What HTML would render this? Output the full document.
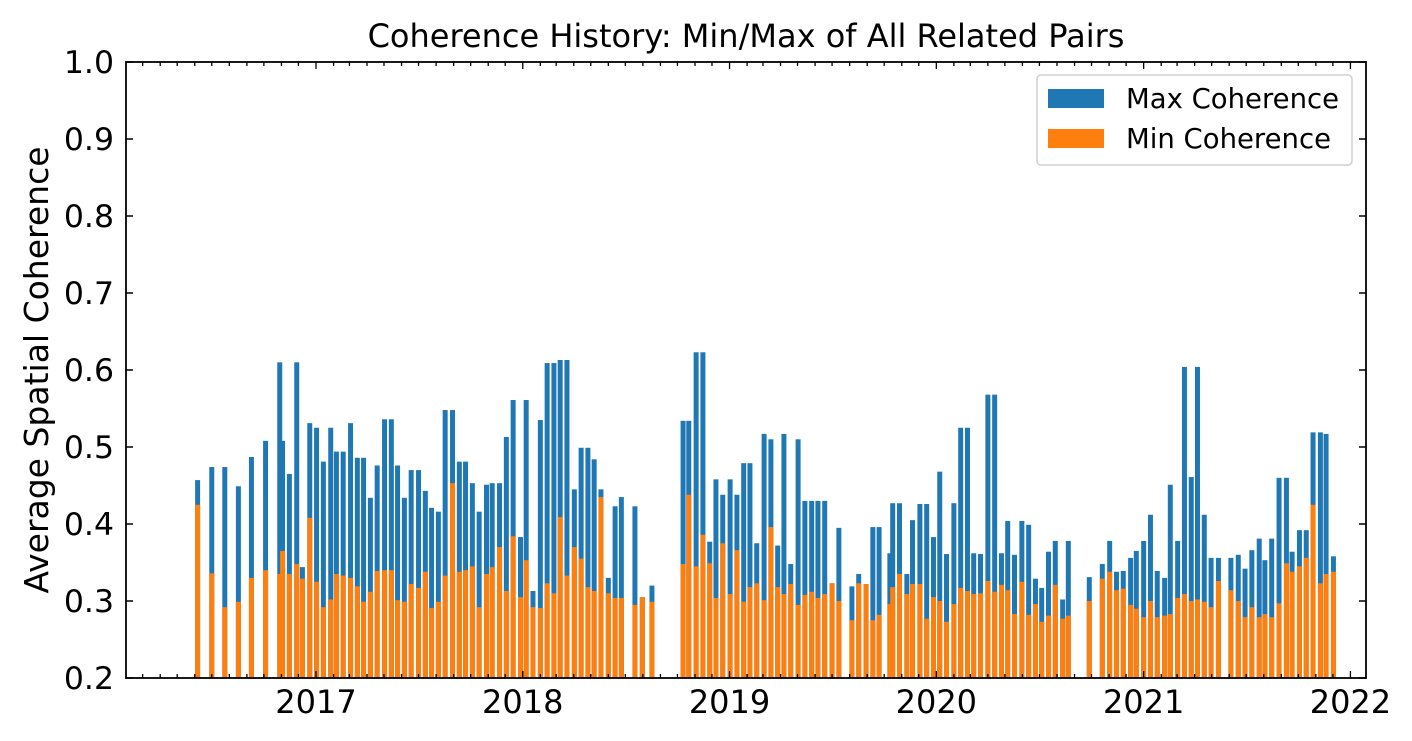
<!DOCTYPE html>
<html><head><meta charset="utf-8"><style>
html,body{margin:0;padding:0;background:#fff;}
svg{display:block;font-family:"DejaVu Sans","Liberation Sans",sans-serif;}
</style></head><body>
<svg id="chart" width="1412" height="741" viewBox="0 0 1412 741">
<text x="746" y="47" font-size="32" text-anchor="middle">Coherence History: Min/Max of All Related Pairs</text>
<text transform="translate(48,370) rotate(-90)" font-size="33" text-anchor="middle">Average Spatial Coherence</text>
<g id="bars-max"></g>
<g id="bars-min"></g>
<g id="axes"></g>
<g>
<rect x="1037" y="75" width="315" height="90" rx="4" fill="#fff" fill-opacity="0.8" stroke="#d0d0d0" stroke-width="1.5"/>
<rect x="1048" y="89" width="56" height="19" fill="#1f77b4"/>
<text x="1126" y="108" font-size="27.5">Max Coherence</text>
<rect x="1048" y="129" width="56" height="19" fill="#ff7f0e"/>
<text x="1126" y="148" font-size="27.5">Min Coherence</text>
</g>
</svg>
<script>
// days since 2017-01-01
const dayOffsets = [-209,-184,-161,-137,-114,-89,-64,-59,-47,-34,-24,-11,1,13,26,36,48,61,73,84,96,108,121,133,144,156,168,181,193,204,216,228,241,253,264,276,288,301,311,324,336,348,361,371,383,396,408,420,431,443,456,468,480,491,503,516,528,539,563,576,593,648,658,671,683,695,706,718,731,743,755,766,778,791,803,815,826,838,851,863,875,886,898,911,923,946,958,971,983,994,1013,1018,1030,1043,1053,1066,1078,1090,1101,1113,1126,1138,1150,1161,1173,1186,1198,1210,1221,1233,1246,1258,1270,1281,1293,1305,1318,1328,1365,1388,1401,1413,1425,1438,1448,1461,1473,1485,1498,1508,1521,1533,1545,1556,1568,1580,1593,1615,1628,1640,1652,1665,1675,1687,1700,1713,1723,1736,1748,1760,1773,1783,1796];
const maxCoherence = [.457,.474,.474,.449,.487,.508,.610,.508,.465,.610,.344,.531,.525,.481,.525,.494,.494,.531,.486,.486,.434,.476,.536,.536,.476,.434,.470,.470,.443,.421,.416,.548,.548,.481,.481,.453,.416,.451,.453,.453,.513,.561,.383,.561,.313,.535,.609,.609,.613,.613,.445,.499,.499,.484,.445,.330,.423,.435,.423,.305,.320,.534,.534,.623,.623,.377,.458,.438,.458,.438,.479,.479,.375,.517,.510,.372,.517,.348,.510,.430,.430,.430,.430,.323,.395,.319,.335,.322,.396,.396,.362,.427,.427,.335,.405,.426,.426,.383,.468,.361,.427,.525,.525,.362,.361,.568,.568,.362,.404,.360,.404,.399,.329,.317,.364,.378,.302,.378,.331,.348,.378,.338,.339,.356,.365,.378,.412,.339,.330,.451,.378,.604,.461,.604,.412,.356,.356,.356,.360,.342,.366,.381,.353,.381,.460,.460,.364,.392,.392,.519,.519,.517,.358];
const minCoherence = [.425,.336,.292,.299,.330,.340,.335,.365,.335,.348,.329,.408,.325,.292,.302,.335,.333,.330,.319,.299,.312,.339,.340,.340,.301,.299,.322,.317,.338,.291,.299,.333,.453,.338,.340,.345,.292,.335,.344,.370,.313,.384,.305,.353,.292,.291,.323,.310,.409,.333,.370,.355,.318,.313,.435,.310,.304,.304,.295,.305,.299,.348,.438,.345,.386,.349,.304,.375,.309,.366,.299,.318,.323,.301,.396,.318,.309,.322,.295,.308,.312,.304,.309,.323,.300,.275,.323,.322,.275,.282,.296,.318,.335,.309,.322,.322,.277,.305,.300,.273,.296,.317,.313,.309,.310,.326,.312,.321,.314,.283,.325,.282,.296,.273,.281,.321,.277,.281,.300,.329,.338,.314,.316,.295,.290,.279,.300,.279,.281,.283,.304,.309,.300,.302,.299,.292,.326,.314,.300,.279,.292,.279,.283,.279,.297,.349,.338,.345,.356,.425,.323,.335,.338];
const yTickLabels = ["0.2","0.3","0.4","0.5","0.6","0.7","0.8","0.9","1.0"];
const xTickLabels = ["2017","2018","2019","2020","2021","2022"];

const NS="http://www.w3.org/2000/svg";
const L=126,R=1366,T=62,B=678, X0=316, PXD=0.5665;
const xScale=d=>X0+d*PXD;
const yScale=v=>B-(v-0.2)/0.8*(B-T);
const BW=8.8*PXD;
function mk(tag,attrs,parent){const e=document.createElementNS(NS,tag);for(const k in attrs)e.setAttribute(k,attrs[k]);parent.appendChild(e);return e;}
const gMax=document.getElementById('bars-max'),gMin=document.getElementById('bars-min'),gAx=document.getElementById('axes');
dayOffsets.forEach((d,i)=>{
  const x=xScale(d)-BW/2;
  const b=mk('rect',{x:x,y:yScale(maxCoherence[i]),width:BW,height:B-yScale(maxCoherence[i]),fill:'#1f77b4'},gMax);
  
  
});
dayOffsets.forEach((d,i)=>{
  const x=xScale(d)-BW/2;
  const b=mk('rect',{x:x,y:yScale(minCoherence[i]),width:BW,height:B-yScale(minCoherence[i]),fill:'#ff7f0e'},gMin);
  
  
});
const fr=mk('rect',{x:L,y:T,width:R-L,height:B-T,fill:'none',stroke:'#000','stroke-width':1.8},gAx);


yTickLabels.forEach(lab=>{
  const y=yScale(parseFloat(lab));
  mk('line',{x1:L,x2:L+7,y1:y,y2:y,stroke:'#000','stroke-width':1.5},gAx);
  mk('line',{x1:R,x2:R-7,y1:y,y2:y,stroke:'#000','stroke-width':1.5},gAx);
  const t=mk('text',{x:114,y:y+11,'font-size':31.5,'text-anchor':'end'},gAx);
  t.textContent=lab;
  
  
});
const base=Date.UTC(2017,0,1);
for(let yr=2016;yr<=2022;yr++){for(let m=0;m<12;m++){
  const d=(Date.UTC(yr,m,1)-base)/86400000;const x=xScale(d);
  if(x<L+1||x>R-1)continue;
  const major=(m===0);const len=major?7:4;
  mk('line',{x1:x,x2:x,y1:B,y2:B-len,stroke:'#000','stroke-width':1.3},gAx);
  mk('line',{x1:x,x2:x,y1:T,y2:T+len,stroke:'#000','stroke-width':1.3},gAx);
}}
xTickLabels.forEach(lab=>{
  const d=(Date.UTC(parseInt(lab),0,1)-base)/86400000;
  const t=mk('text',{x:xScale(d),y:713,'font-size':32,'text-anchor':'middle'},gAx);
  t.textContent=lab;
  
  
});
</script>
</body></html>
